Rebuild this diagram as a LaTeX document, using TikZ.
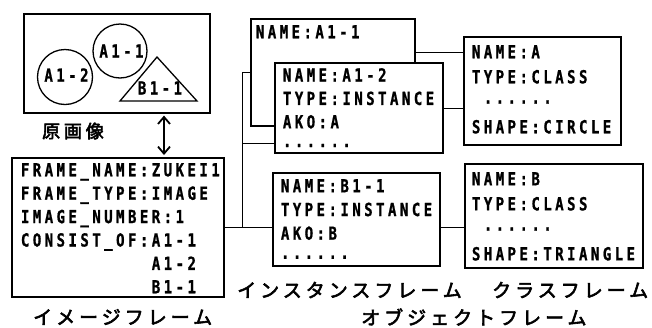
\documentclass[tikz,border=0pt]{standalone}
\usepackage{fontspec}
\usetikzlibrary{arrows.meta}
\newfontfamily\frm[FakeStretch=0.78,FakeBold=1]{DejaVu Sans Mono Bold}
\newfontfamily\jp[FakeBold=3,LetterSpace=21]{Noto Sans CJK JP}
\newdimen\gridw \gridw=11.9pt
\makeatletter
\newcommand\grid[1]{\@tfor\grid@c:=#1\do{\makebox[\gridw][c]{\grid@c}}}
\makeatother
\newcommand\gskip[1]{\hspace*{#1\gridw}}
\begin{document}
\begin{tikzpicture}[x=1pt,y=-1pt,
  box/.style={draw,line width=1.6pt,fill=white,rectangle,inner sep=0pt,anchor=north west},
  conn/.style={line width=0.9pt},
  txt/.style={inner sep=0pt,anchor=north west,align=left},
  jlab/.style={inner sep=0pt,anchor=west,font=\jp\fontsize{19}{21}\selectfont},
  dbl/.style={line width=1.8pt,{Straight Barb[length=7pt,width=12pt]}-{Straight Barb[length=7pt,width=12pt]}}]
\useasboundingbox (0,0) rectangle (652,327);
% original image
\node[box,minimum width=186pt,minimum height=99pt] (img) at (23,13) {};
\draw[line width=1.3pt] (65,77) circle[radius=27.5pt];
\draw[line width=1.3pt] (120,51) circle[radius=27pt];
\draw[line width=1.3pt] (157,57) -- (120,101) -- (197,101) -- cycle;
\node[inner sep=0pt,font=\frm\fontsize{18}{20}\selectfont] (c12) at (66.5,75) {\grid{A1-2}};
\node[inner sep=0pt,font=\frm\fontsize{18}{20}\selectfont] (c11) at (121.5,51) {\grid{A1-1}};
\node[inner sep=0pt,font=\frm\fontsize{18}{20}\selectfont] (t11) at (160,88) {\grid{B1-1}};
\node[inner sep=0pt,anchor=west,font=\jp\fontsize{18}{20}\selectfont] (orig) at (42,131) {原画像};
% image frame
\node[box,minimum width=212pt,minimum height=139pt] (frame) at (11,157) {};
\node[txt,font=\frm\fontsize{18}{23.4}\selectfont] (framet) at (19,163)
  {\grid{FRAME\_NAME:ZUKEI1}\\\grid{FRAME\_TYPE:IMAGE}\\\grid{IMAGE\_NUMBER:1}\\\grid{CONSIST\_OF:A1-1}\\
   \gskip{11}\grid{A1-2}\\\gskip{11}\grid{B1-1}};
\coordinate (ax) at (164,0);
\draw[dbl,shorten <=2pt,shorten >=2pt] (ax |- img.south) -- (ax |- frame.north);
% instance frames
\node[box,minimum width=164pt,minimum height=107pt] (a11) at (250,18) {};
\node[txt,font=\frm\fontsize{18}{23.4}\selectfont] (a11t) at (254,25) {\grid{NAME:A1-1}};
\node[box,minimum width=168pt,minimum height=90pt] (a12) at (274,62) {};
\node[txt,font=\frm\fontsize{18}{23.4}\selectfont] (a12t) at (281,68)
  {\grid{NAME:A1-2}\\\grid{TYPE:INSTANCE}\\\grid{AKO:A}\\\grid{······}};
\node[box,minimum width=167pt,minimum height=93pt] (b11) at (272,172) {};
\node[txt,font=\frm\fontsize{18}{23.7}\selectfont] (b11t) at (279,179)
  {\grid{NAME:B1-1}\\\grid{TYPE:INSTANCE}\\\grid{AKO:B}\\\grid{······}};
% class frames
\node[box,minimum width=157pt,minimum height=108pt] (ca) at (463,36) {};
\node[txt,font=\frm\fontsize{18}{25}\selectfont] (cat) at (470,45)
  {\grid{NAME:A}\\\grid{TYPE:CLASS}\\\gskip{1}\grid{······}\\\grid{SHAPE:CIRCLE}};
\node[box,minimum width=178pt,minimum height=104pt] (cb) at (464,163) {};
\node[txt,font=\frm\fontsize{18}{25}\selectfont] (cbt) at (470,172)
  {\grid{NAME:B}\\\grid{TYPE:CLASS}\\\gskip{1}\grid{······}\\\grid{SHAPE:TRIANGLE}};
% connectors
\coordinate (busTop) at (242,72);
\coordinate (busMid) at (242,143);
\coordinate (busBot) at (242,227);
\coordinate (ya) at (0,52);
\coordinate (yb) at (0,108);
\draw[conn] (busTop -| a11.west) -- (busTop) -- (busBot);
\draw[conn] (busMid) -- (busMid -| a12.west);
\draw[conn] (frame.east |- busBot) -- (b11.west |- busBot);
\draw[conn] (a11.east |- ya) -- (ca.west |- ya);
\draw[conn] (a12.east |- yb) -- (ca.west |- yb);
\draw[conn] (b11.east |- busBot) -- (cb.west |- busBot);
% labels
\node[jlab] (lblimg) at (33,317) {イメージフレーム};
\node[jlab] (lblins) at (237,290) {インスタンスフレーム};
\node[jlab] (lblcls) at (492,290) {クラスフレーム};
\node[jlab] (lblobj) at (361,317) {オブジェクトフレーム};
\end{tikzpicture}
\end{document}
